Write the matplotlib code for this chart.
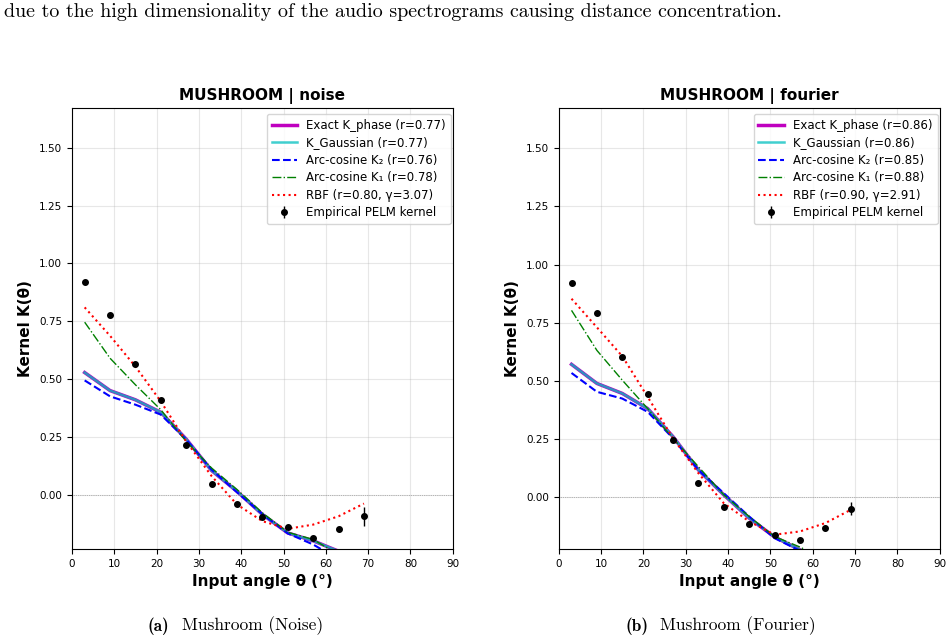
import matplotlib
matplotlib.use("Agg")
from matplotlib import pyplot as plt

# angles (deg) at which kernels are evaluated
angles = [3, 9, 15, 21, 27, 33, 39, 45, 51, 57, 63, 69]

# --- MUSHROOM | noise ---
noise_emp = [0.92, 0.778, 0.567, 0.41, 0.216, 0.046, -0.04, -0.098, -0.14, -0.19, -0.151, -0.094]
noise_err = [0.005, 0.005, 0.005, 0.005, 0.006, 0.006, 0.007, 0.008, 0.009, 0.01, 0.012, 0.04]
noise_phase = [0.528, 0.45, 0.41, 0.356, 0.24, 0.104, 0.014, -0.086, -0.166, -0.2, -0.245, -0.29]
noise_gauss = [0.528, 0.45, 0.41, 0.356, 0.24, 0.104, 0.014, -0.086, -0.166, -0.2, -0.245, -0.29]
noise_arc2 = [0.494, 0.425, 0.389, 0.346, 0.238, 0.108, 0.01, -0.084, -0.168, -0.216, -0.28, -0.32]
noise_arc1 = [0.746, 0.59, 0.475, 0.367, 0.23, 0.115, 0.022, -0.079, -0.163, -0.194, -0.26, -0.3]
noise_rbf = [0.81, 0.687, 0.554, 0.403, 0.23, 0.08, -0.043, -0.115, -0.148, -0.13, -0.094, -0.039]
noise_r = {"phase": 0.77, "gauss": 0.77, "arc2": 0.76, "arc1": 0.78, "rbf": 0.80, "gamma": 3.07}

# --- MUSHROOM | fourier ---
four_emp = [0.921, 0.79, 0.603, 0.444, 0.246, 0.063, -0.04, -0.116, -0.164, -0.183, -0.133, -0.05]
four_err = [0.005, 0.005, 0.005, 0.005, 0.006, 0.006, 0.007, 0.008, 0.009, 0.01, 0.012, 0.028]
four_phase = [0.571, 0.489, 0.446, 0.381, 0.26, 0.117, 0.01, -0.09, -0.171, -0.226, -0.28, -0.32]
four_gauss = [0.571, 0.489, 0.446, 0.381, 0.26, 0.117, 0.01, -0.09, -0.171, -0.226, -0.28, -0.32]
four_arc2 = [0.534, 0.453, 0.424, 0.367, 0.253, 0.117, 0.017, -0.083, -0.176, -0.23, -0.29, -0.33]
four_arc1 = [0.803, 0.631, 0.503, 0.381, 0.253, 0.131, 0.01, -0.083, -0.169, -0.214, -0.27, -0.31]
four_rbf = [0.853, 0.73, 0.606, 0.431, 0.253, 0.103, -0.026, -0.104, -0.161, -0.147, -0.111, -0.054]
four_r = {"phase": 0.86, "gauss": 0.86, "arc2": 0.85, "arc1": 0.88, "rbf": 0.90, "gamma": 2.91}

fig = plt.figure(figsize=(9.52, 6.4), dpi=100)

def panel(ax, title, emp, err, phase, gauss, arc2, arc1, rbf, r, ymin):
    ax.plot(angles, phase, color='m', lw=2.5, label=f"Exact K_phase (r={r['phase']:.2f})")
    ax.plot(angles, gauss, color='c', lw=1.8, alpha=0.75, label=f"K_Gaussian (r={r['gauss']:.2f})")
    ax.plot(angles, arc2, color='b', ls='--', lw=1.5, label=f"Arc-cosine K\u2082 (r={r['arc2']:.2f})")
    ax.plot(angles, arc1, color='g', ls='-.', lw=1.0, label=f"Arc-cosine K\u2081 (r={r['arc1']:.2f})")
    ax.plot(angles, rbf, color='r', ls=':', lw=1.5, label=f"RBF (r={r['rbf']:.2f}, \u03b3={r['gamma']:.2f})")
    ax.errorbar(angles, emp, yerr=err, fmt='o', color='k', ms=4, elinewidth=1, label="Empirical PELM kernel")
    ax.axhline(0, color='gray', lw=0.5, ls=':')
    ax.set_title(title, fontsize=11, fontweight='bold')
    ax.set_xlabel("Input angle \u03b8 (\u00b0)", fontsize=11, fontweight='bold')
    ax.set_ylabel("Kernel K(\u03b8)", fontsize=11, fontweight='bold')
    ax.set_xlim(0, 90)
    ax.set_xticks(range(0, 91, 10))
    ax.set_yticks([0.0, 0.25, 0.5, 0.75, 1.0, 1.25, 1.5])
    ax.set_ylim(ymin, 1.672)
    ax.tick_params(labelsize=7.5)
    ax.grid(alpha=0.3)
    ax.legend(loc='upper right', bbox_to_anchor=(1.01, 1.0), fontsize=8.5, handlelength=2.2,
              handletextpad=0.75, borderpad=0.4, labelspacing=0.38)

ax1 = fig.add_axes([0.0756, 0.142, 0.400, 0.689])
panel(ax1, "MUSHROOM | noise", noise_emp, noise_err, noise_phase, noise_gauss,
      noise_arc2, noise_arc1, noise_rbf, noise_r, -0.236)
ax2 = fig.add_axes([0.587, 0.142, 0.400, 0.689])
panel(ax2, "MUSHROOM | fourier", four_emp, four_err, four_phase, four_gauss,
      four_arc2, four_arc1, four_rbf, four_r, -0.223)

# paper caption text around the figure
fig.text(0.004, 0.981, "due to the high dimensionality of the audio spectrograms causing distance concentration.",
         family='cmr10', fontsize=14.4, ha='left', va='center')
fig.text(0.155, 0.022, "(a)", family='cmb10', fontsize=12.5, ha='left', va='center')
fig.text(0.191, 0.022, "Mushroom (Noise)", family='cmr10', fontsize=12.5, ha='left', va='center')
fig.text(0.657, 0.022, "(b)", family='cmb10', fontsize=12.5, ha='left', va='center')
fig.text(0.693, 0.022, "Mushroom (Fourier)", family='cmr10', fontsize=12.5, ha='left', va='center')

fig.savefig("out.png", dpi=100)
